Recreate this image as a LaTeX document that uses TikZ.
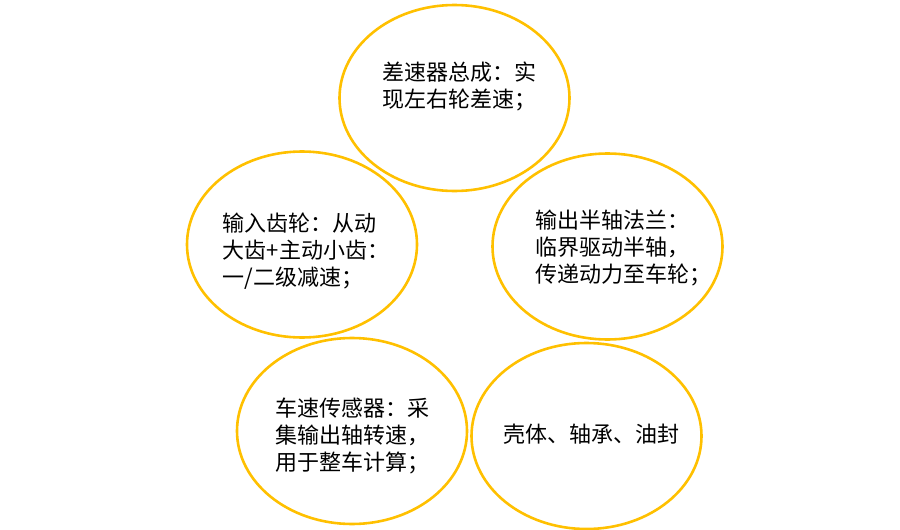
\documentclass[tikz,border=0pt]{standalone}
\usepackage{fontspec}
\newfontfamily\cjk{Noto Sans CJK SC}
\usetikzlibrary{shapes.geometric}
\definecolor{gold}{HTML}{FFC000}
\tikzset{
  bubble/.style={draw=gold, line width=2.6pt, ellipse, minimum width=230pt, minimum height=186pt, inner sep=0pt},
  label/.style={align=left, inner sep=0pt, font=\cjk\fontsize{22}{27}\selectfont, text=black}
}
\begin{document}
\begin{tikzpicture}[x=1pt,y=-1pt]
\useasboundingbox (0,0) rectangle (900,530);
\node[bubble] (e1) at (454.5,98) {};
\node[bubble] (e2) at (302,244.5) {};
\node[bubble] (e3) at (607.5,246.5) {};
\node[bubble] (e4) at (352,431) {};
\node[bubble] (e5) at (586.5,436) {};
\node[label] (t1) at (459,86) {差速器总成：实\\现左右轮差速；};
\node[label] (t2) at (306,251) {输入齿轮：从动\\大齿+主动小齿：\\一/二级减速；};
\node[label] (t3) at (623,248) {输出半轴法兰：\\临界驱动半轴，\\传递动力至车轮；};
\node[label] (t4) at (352,436) {车速传感器：采\\集输出轴转速，\\用于整车计算；};
\node[label] (t5) at (591,434) {壳体、轴承、油封};
\end{tikzpicture}
\end{document}
